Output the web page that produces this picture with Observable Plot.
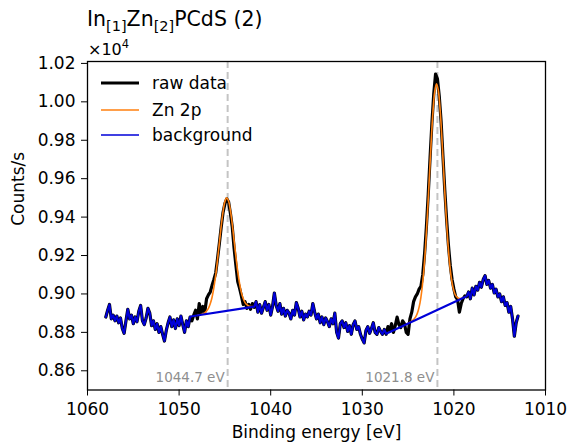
<!DOCTYPE html>
<html>
<head>
<meta charset="utf-8">
<script src="https://cdn.jsdelivr.net/npm/d3@7"></script>
<script src="https://cdn.jsdelivr.net/npm/@observablehq/plot@0.6"></script>
<style>
  body { margin: 0; background: #fff; font-family: "DejaVu Sans", sans-serif; }
  #wrap { position: relative; width: 568px; height: 448px; overflow: hidden; }
  #title { position: absolute; left: 87px; top: 7px; font-size: 20.5px; white-space: nowrap; line-height: normal; color: #000; }
  #title .s { font-size: 14.5px; position: relative; top: 5px; }
  #mult { position: absolute; left: 88px; top: 40px; font-size: 16px; white-space: nowrap; line-height: normal; color: #000; }
  #mult .p { font-size: 11.5px; position: relative; top: -7px; }
  .leg { position: absolute; left: 101px; font-size: 17px; white-space: nowrap; height: 20px; line-height: 20px; }
  .leg svg { position: absolute; left: 0; top: 0; }
  .leg .lb { position: absolute; left: 51px; top: 0; }
  #plot { position: absolute; left: 0; top: 0; }
</style>
</head>
<body>
<div id="wrap">
  <div id="plot"></div>
  <div id="title">In<span class="s">[1]</span>Zn<span class="s">[2]</span>PCdS (2)</div>
  <div id="mult">×10<span class="p">4</span></div>
  <div id="legend"></div>
</div>
<script>
// ---- data (counts/s) ----
const energyStart = 1058.0;   // eV, first sample
const energyStep = 0.2;       // eV
const rawCounts = [
  // 1058.0 -> 1048.6
  8880, 8915, 8945, 8870, 8890, 8860, 8885, 8850, 8875, 8820,
  8795, 8860, 8920, 8870, 8890, 8845, 8880, 8855, 8910, 8940,
  8860, 8840, 8875, 8925, 8900, 8835, 8860, 8815, 8845, 8800,
  8830, 8790, 8755, 8810, 8850, 8880, 8830, 8865, 8820, 8870,
  8835, 8885, 8840, 8800, 8860, 8830, 8880, 8860,
  // 1048.4 -> 1041.8 (Zn 2p1/2)
  8890, 8915, 8870, 8950, 8900, 8935, 8905, 8975, 8995, 9010,
  9045, 9075, 9110, 9185, 9265, 9350, 9425, 9470, 9495, 9480,
  9420, 9350, 9240, 9150, 9065, 9030, 8990, 8945, 8960, 8925,
  8945, 8920, 8950, 8930,
  // 1041.6 -> 1027.6
  8960, 8905, 8945, 8900, 8930, 8960, 8915, 8945, 8890, 8935,
  9005, 8940, 8910, 8950, 8895, 8925, 8885, 8915, 8900, 8870,
  8915, 8890, 8955, 8925, 8880, 8910, 8865, 8895, 8880, 8910,
  8890, 8950, 8905, 8870, 8895, 8850, 8880, 8840, 8875, 8855,
  8830, 8870, 8845, 8900, 8800, 8770, 8845, 8860, 8825, 8850,
  8805, 8835, 8790, 8840, 8860, 8815, 8830, 8790, 8765, 8745,
  8810, 8830, 8795, 8820, 8850, 8800, 8790, 8825, 8805, 8790,
  8815,
  // 1027.4 -> 1018.6 (Zn 2p3/2)
  8790, 8830, 8810, 8845, 8800, 8835, 8880, 8840, 8825, 8860,
  8845, 8800, 8790, 8870, 8905, 8960, 8985, 9000, 9025, 9040,
  9100, 9210, 9350, 9520, 9710, 9890, 10040, 10145, 10120, 10030,
  9900, 9720, 9545, 9390, 9255, 9150, 9075, 9025, 8985, 8970,
  8905, 8950, 8975, 8990, 8985,
  // 1018.4 -> 1013.0
  9010, 8975, 9030, 8995, 9040, 9020, 9060, 9035, 9075, 9095,
  9050, 9070, 9030, 9050, 9005, 9025, 8985, 9000, 8960, 8985,
  8940, 8955, 8905, 8935, 8870, 8780, 8850, 8885
];

// fitted Zn 2p envelopes (fit + background)
const fitStart = [1048.0, 1025.1];
const fitCounts1 = [8888, 8891, 8893, 8896, 8901, 8911, 8925, 8949, 8983, 9034,
  9099, 9180, 9267, 9355, 9429, 9481, 9500, 9484, 9435, 9364,
  9279, 9195, 9117, 9055, 9007, 8976, 8955, 8944, 8937, 8935, 8934];
const fitCounts2 = [8844, 8850, 8855, 8862, 8872, 8887, 8913, 8954, 9019, 9114,
  9243, 9406, 9589, 9776, 9938, 10051, 10094, 10059, 9956, 9802,
  9625, 9450, 9297, 9176, 9089, 9034, 9001, 8985, 8978, 8976,
  8979, 8982, 8986];

// linear background windows
const bgWindowStart = [1048.6, 1027.4];
const bgWindowEnd = [1041.8, 1018.6];
const bgStartCounts = [8884, 8793];
const bgEndCounts = [8934, 8988];

// peak markers
const peakPositions = [1044.7, 1021.8];

// ticks
const xTicks = [1060, 1050, 1040, 1030, 1020, 1010];
const yTicks = [8600, 8800, 9000, 9200, 9400, 9600, 9800, 10000, 10200];

// legend
const legendLabels = ["raw data", "Zn 2p", "background"];
const legendColors = ["#000000", "#ff7f0e", "#0000d8"];
const legendWidths = [2.8, 1.6, 1.6];

// ---- build tables ----
const raw = rawCounts.map((v, i) => ({E: +(energyStart - i * energyStep).toFixed(1), v}));
const fit = [];
[fitCounts1, fitCounts2].forEach((arr, k) => {
  arr.forEach((v, i) => fit.push({E: +(fitStart[k] - i * energyStep).toFixed(1), v, peak: k}));
});
const bg = [];
raw.forEach(d => {
  const w = bgWindowStart.findIndex((s, k) => d.E <= s && d.E >= bgWindowEnd[k]);
  if (w < 0) bg.push(d);
  else if (d.E === bgWindowStart[w]) {
    bg.push({E: bgWindowStart[w], v: bgStartCounts[w]});
    bg.push({E: bgWindowEnd[w], v: bgEndCounts[w]});
  }
});

const chart = Plot.plot({
  width: 568,
  height: 448,
  marginLeft: 87,
  marginRight: 23,
  marginTop: 61,
  marginBottom: 58.5,
  style: {fontFamily: "DejaVu Sans, sans-serif", fontSize: "17px", color: "#000", background: "transparent"},
  x: {domain: [1060, 1010]},
  y: {domain: [8500, 10210]},
  marks: [
    Plot.ruleX(peakPositions, {x: d => d, stroke: "#c4c4c4", strokeWidth: 2, strokeDasharray: "7,4"}),
    Plot.text(peakPositions, {x: d => d, frameAnchor: "bottom", dy: -8, dx: -3, text: d => d.toFixed(1) + " eV",
      textAnchor: "end", fill: "#8e8e8e", fontSize: 13.5}),
    Plot.line(raw, {x: "E", y: "v", stroke: legendColors[0], strokeWidth: 3.2, strokeLinejoin: "round"}),
    Plot.line(fit, {x: "E", y: "v", z: "peak", stroke: legendColors[1], strokeWidth: 1.6, curve: "catmull-rom"}),
    Plot.line(bg, {x: "E", y: "v", stroke: legendColors[2], strokeWidth: 2.1, strokeLinejoin: "round"}),
    Plot.frame({stroke: "#000", strokeWidth: 1.3}),
    Plot.axisX({ticks: xTicks, tickSize: 6, tickPadding: 7, label: null, tickFormat: d => String(d)}),
    Plot.axisY({ticks: yTicks, tickSize: 6, tickPadding: 6, label: null, tickFormat: d => (d / 1e4).toFixed(2)}),
    Plot.text(["Counts/s"], {frameAnchor: "left", dx: -69, rotate: -90, fontSize: 17}),
    Plot.text(["Binding energy [eV]"], {frameAnchor: "bottom", dy: 48, fontSize: 17})
  ]
});
document.getElementById("plot").appendChild(chart);

const legTop = [83, 109.5, 135];
const lg = document.getElementById("legend");
const NS = "http://www.w3.org/2000/svg";
legendLabels.forEach((name, i) => {
  const row = document.createElement("div");
  row.className = "leg";
  row.style.top = (legTop[i] - 10) + "px";
  const svg = document.createElementNS(NS, "svg");
  svg.setAttribute("width", "40");
  svg.setAttribute("height", "20");
  const ln = document.createElementNS(NS, "line");
  ln.setAttribute("x1", "0");
  ln.setAttribute("x2", "38");
  ln.setAttribute("y1", "10");
  ln.setAttribute("y2", "10");
  ln.setAttribute("stroke", legendColors[i]);
  ln.setAttribute("stroke-width", legendWidths[i]);
  svg.appendChild(ln);
  const lb = document.createElement("span");
  lb.className = "lb";
  lb.textContent = name;
  row.appendChild(svg);
  row.appendChild(lb);
  lg.appendChild(row);
});
</script>
</body>
</html>
